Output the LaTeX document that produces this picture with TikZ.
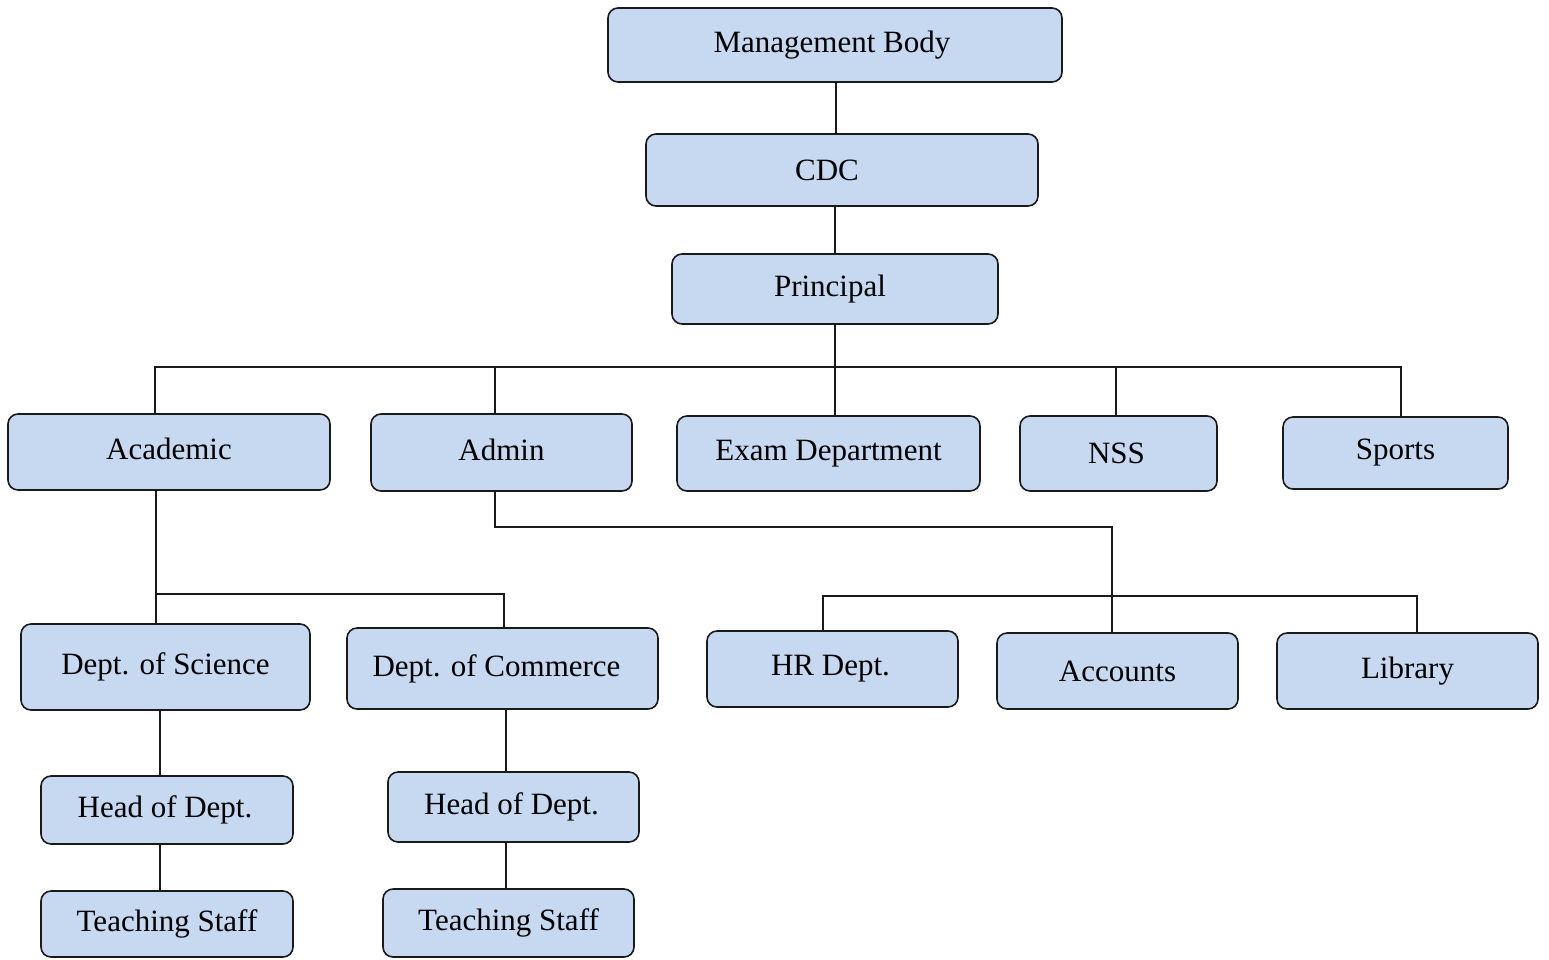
\documentclass[tikz,border=0pt]{standalone}
\usepackage{fontspec}
\setmainfont{Liberation Serif}
\definecolor{boxfill}{HTML}{C6D9F1}
\definecolor{edge}{HTML}{1A1A1A}
\begin{document}
\begin{tikzpicture}[x=1pt,y=-1pt,
  box/.style={draw=edge,fill=boxfill,line width=1.6pt,rounded corners=10pt,
    inner sep=0pt,font=\fontsize{31}{34}\selectfont},
  conn/.style={draw=edge,line width=1.6pt}]
\useasboundingbox (0,0) rectangle (1549,959);
% name, x1, y1, x2, y2, text-dx, text-dy, text
\newcommand{\bx}[8]{\node[box,minimum width={#4-#2},minimum height={#5-#3}] (#1) at ({(#2+#4)/2},{(#3+#5)/2})
  {\makebox[0pt]{\hspace{#6pt}\hspace{#6pt}\raisebox{-#7pt}{#8}}};}
\bx{mb}{608}{8}{1062}{82}{-3}{0}{Management Body}
\bx{cdc}{646}{134}{1038}{206}{-15}{2}{CDC}
\bx{pr}{672}{254}{998}{324}{-5}{3}{Principal}
\bx{ac}{8}{414}{330}{490}{0}{-7}{Academic}
\bx{ad}{371}{414}{632}{491}{0}{-5}{Admin}
\bx{ex}{677}{416}{980}{491}{0}{-3}{Exam Department}
\bx{nss}{1020}{416}{1217}{491}{-2}{1}{NSS}
\bx{sp}{1283}{417}{1508}{489}{0}{-1}{Sports}
\bx{sci}{21}{624}{310}{710}{0}{0}{Dept. of Science}
\bx{com}{347}{628}{658}{709}{-6}{0}{Dept. of Commerce}
\bx{hr}{707}{631}{958}{707}{-2}{3}{HR Dept.}
\bx{acc}{997}{633}{1238}{709}{0}{0}{Accounts}
\bx{lib}{1277}{633}{1538}{709}{0}{4}{Library}
\bx{hl}{41}{776}{293}{844}{-2}{-3}{Head of Dept.}
\bx{hr2}{388}{772}{639}{842}{-2}{-2}{Head of Dept.}
\bx{tl}{41}{891}{293}{957}{0}{-1}{Teaching Staff}
\bx{tr}{383}{889}{634}{957}{0}{2}{Teaching Staff}
% connectors
\coordinate (busL) at (155,367);
\coordinate (busR) at (1401,367);
\draw[conn] (mb.south -| 836,0) -- (cdc.north -| 836,0);
\draw[conn] (cdc.south -| 835,0) -- (pr.north -| 835,0);
\draw[conn] (pr.south -| 835,0) -- (ex.north -| 835,0);
\draw[conn] (ac.north -| busL) -- (busL) -- (busR) -- (sp.north -| busR);
\draw[conn] (ad.north -| 495,0) -- (495,367);
\draw[conn] (nss.north -| 1116,0) -- (1116,367);
% academic subtree
\draw[conn] (ac.south -| 156,0) -- (156,594) -- (504,594) -- (com.north -| 504,0);
\draw[conn] (156,594) -- (sci.north -| 156,0);
\draw[conn] (sci.south -| 160,0) -- (hl.north -| 160,0);
\draw[conn] (hl.south -| 160,0) -- (tl.north -| 160,0);
\draw[conn] (com.south -| 506,0) -- (hr2.north -| 506,0);
\draw[conn] (hr2.south -| 506,0) -- (tr.north -| 506,0);
% admin subtree
\draw[conn] (ad.south -| 495,0) -- (495,527) -- (1112,527) -- (acc.north -| 1112,0);
\draw[conn] (hr.north -| 823,0) -- (823,596) -- (1417,596) -- (lib.north -| 1417,0);
\end{tikzpicture}
\end{document}
